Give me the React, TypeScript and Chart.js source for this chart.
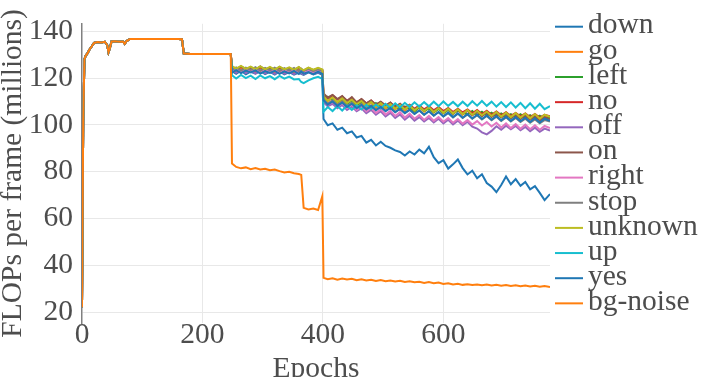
import { useEffect, useRef } from "react";
import { Chart, registerables } from "chart.js";

Chart.register(...registerables);

const FONT = "'Liberation Serif', 'Times New Roman', serif";
const TEXT = "#4d4d4d";
const FS = 29.5;

const seriesNames = ["down", "go", "left", "no", "off", "on", "right", "stop", "unknown", "up", "yes", "bg-noise"];
const seriesColors = ["#1f77b4", "#ff7f0e", "#2ca02c", "#d62728", "#9467bd", "#8c564b", "#e377c2", "#7f7f7f", "#bcbd22", "#17becf", "#1f77b4", "#ff7f0e"];

const yTicks = [20, 40, 60, 80, 100, 120, 140];
const xTicks = [0, 200, 400, 600];

// Shared warm-up phase (all keywords overlap)
const prefixEpochs = [0, 2, 4, 6, 9, 12, 16, 20, 26, 32, 38, 42, 44, 46, 49, 55, 62, 68, 71, 74, 80, 100, 130, 160, 166, 169, 180, 210, 240, 247];
const prefixValues = [22, 101, 128, 129.5, 130.5, 132, 133.5, 135, 135.4, 135.2, 135.5, 134, 131, 132.5, 135.6, 135.7, 135.5, 135.6, 134.6, 135.8, 136.7, 136.7, 136.7, 136.7, 136.6, 130.5, 130.3, 130.3, 130.3, 130.3];

// Phase B: epochs 249-399
const phaseBEpochs = [249, 256, 264, 272, 280, 288, 296, 304, 312, 320, 328, 336, 344, 352, 360, 364, 368, 376, 384, 392, 399];
const downB = [122.9, 121.8, 123.1, 121.6, 122.7, 121.9, 123.0, 121.7, 122.6, 121.5, 122.8, 121.6, 122.5, 121.4, 122.3, 121.8, 121.3, 122.4, 121.5, 122.2, 121.4];
const goB = [123.8, 122.7, 123.9, 122.8, 123.6, 122.5, 124.0, 122.6, 123.5, 122.4, 123.7, 122.5, 123.4, 122.3, 123.6, 122.6, 122.2, 123.3, 122.4, 123.2, 122.5];
const leftB = [122.6, 123.7, 122.4, 123.5, 122.8, 123.8, 122.3, 123.4, 122.5, 123.6, 122.2, 123.3, 122.6, 123.5, 122.1, 123.2, 122.4, 123.0, 122.2, 123.1, 122.4];
const noB = [124.6, 123.5, 124.8, 123.6, 124.4, 123.3, 124.7, 123.4, 124.3, 123.2, 124.5, 123.3, 124.2, 123.1, 124.3, 123.4, 123.0, 124.1, 123.2, 124.0, 123.3];
const offB = [123.5, 122.2, 123.4, 122.1, 123.2, 121.9, 123.3, 122.0, 123.0, 121.8, 123.1, 121.9, 122.8, 121.7, 122.9, 122.0, 121.6, 122.7, 121.8, 122.5, 121.9];
const onB = [124.9, 123.7, 125.0, 123.8, 124.7, 123.5, 124.9, 123.6, 124.5, 123.4, 124.7, 123.5, 124.4, 123.3, 124.6, 123.6, 123.2, 124.3, 123.4, 124.2, 123.5];
const rightB = [123.0, 124.0, 122.8, 123.9, 122.9, 123.7, 122.7, 123.8, 122.6, 123.6, 122.5, 123.7, 122.4, 123.5, 122.6, 123.3, 122.3, 123.2, 122.4, 123.1, 122.5];
const stopB = [123.4, 124.5, 123.2, 124.4, 123.5, 124.6, 123.1, 124.3, 123.3, 124.4, 123.0, 124.2, 123.2, 124.3, 122.9, 124.0, 123.1, 123.9, 122.9, 123.8, 123.0];
const unknownB = [125.1, 124.0, 125.2, 123.9, 124.9, 123.8, 125.0, 123.7, 124.8, 123.6, 124.9, 123.7, 124.6, 123.5, 124.7, 123.8, 123.4, 124.5, 123.6, 124.4, 123.7];
const upB = [121.2, 119.8, 121.3, 120.0, 121.0, 119.6, 121.1, 119.9, 120.8, 119.5, 120.9, 119.7, 120.6, 119.4, 119.6, 118.3, 117.8, 119.0, 119.9, 120.5, 119.6];
const yesB = [122.3, 123.4, 122.1, 123.2, 122.4, 123.3, 121.9, 123.0, 122.2, 123.1, 121.8, 122.9, 122.0, 123.0, 121.7, 122.8, 121.9, 122.6, 121.7, 122.7, 121.8];
const bgNoiseB = [83.5, 82.0, 81.4, 81.8, 81.0, 81.5, 80.9, 81.2, 80.6, 80.9, 80.2, 79.6, 79.9, 79.3, 79.0, 78.6, 64.5, 63.8, 64.2, 63.6, 69.5];

// Phase C: epochs 401-777
const phaseCEpochs = [401, 408, 416, 424, 432, 440, 448, 456, 464, 472, 480, 488, 496, 504, 512, 520, 528, 536, 544, 552, 560, 568, 576, 584, 592, 600, 608, 616, 624, 632, 640, 648, 656, 664, 672, 680, 688, 696, 704, 712, 720, 728, 736, 744, 752, 760, 768, 777];
const downC = [102.5, 99.8, 100.6, 97.9, 98.8, 96.4, 97.2, 94.6, 95.3, 92.4, 93.6, 91.2, 92.8, 91.0, 90.2, 89.1, 88.4, 86.9, 88.6, 87.3, 89.4, 87.8, 90.6, 86.2, 83.6, 84.9, 81.3, 83.1, 85.2, 81.5, 78.8, 80.4, 77.2, 78.9, 75.1, 73.6, 71.2, 74.3, 77.9, 74.6, 76.8, 73.9, 75.6, 72.4, 73.8, 70.9, 67.8, 70.4];
const goC = [
  111.8, 110.2, 111.5, 109.4, 110.8, 108.9, 110.6, 108.5,
  109.9, 107.8, 109.5, 107.4, 108.9, 107.0, 108.6, 106.6,
  108.2, 106.1, 107.9, 105.8, 107.6, 105.6, 107.4, 105.2,
  107.1, 105.0, 106.6, 104.7, 106.5, 104.4, 106.2, 104.1,
  105.9, 103.8, 105.6, 103.7, 105.4, 103.4, 105.1, 103.2,
  104.8, 102.9, 104.6, 102.8, 104.3, 102.5, 104.0, 103.0,
];
const leftC = [
  110.2, 112.0, 110.8, 109.6, 111.2, 109.0, 110.4, 108.2,
  109.8, 108.9, 107.6, 109.3, 107.2, 108.6, 106.8, 108.4,
  106.5, 107.9, 106.9, 105.8, 107.6, 105.9, 107.0, 105.4,
  106.8, 105.1, 106.4, 104.8, 106.1, 105.3, 104.4, 105.9,
  104.2, 105.6, 104.0, 105.2, 103.6, 104.9, 103.4, 104.6,
  103.2, 104.5, 103.0, 104.1, 102.8, 103.9, 102.6, 103.3,
];
const noC = [
  113.0, 111.4, 112.6, 110.8, 112.1, 110.3, 111.6, 109.6,
  110.9, 109.1, 110.4, 108.5, 109.8, 108.2, 109.4, 107.6,
  108.9, 107.3, 108.6, 106.9, 108.2, 106.6, 107.9, 106.2,
  107.6, 105.9, 107.2, 105.5, 106.9, 105.3, 106.6, 104.9,
  106.3, 104.6, 106.0, 104.3, 105.7, 104.1, 105.4, 103.8,
  105.1, 103.6, 104.9, 103.3, 104.6, 103.1, 104.3, 103.6,
];
const offC = [
  109.6, 107.9, 109.0, 107.1, 108.5, 106.4, 107.8, 105.8,
  107.1, 105.0, 106.4, 104.3, 105.8, 103.6, 105.1, 102.9,
  104.4, 102.2, 103.9, 101.8, 103.3, 101.4, 102.9, 101.0,
  102.6, 100.6, 102.2, 100.2, 101.8, 99.8, 101.3, 99.2,
  98.4, 96.8, 95.9, 97.4, 99.4, 97.9, 99.6, 98.1,
  99.5, 97.7, 99.1, 97.3, 98.8, 97.0, 98.4, 97.5,
];
const onC = [
  113.4, 111.6, 112.8, 111.0, 112.3, 110.2, 111.8, 109.5,
  111.0, 109.2, 110.4, 108.6, 109.9, 108.1, 109.5, 107.6,
  109.0, 107.0, 108.5, 106.6, 108.0, 106.2, 107.6, 105.8,
  107.2, 105.3, 106.8, 104.9, 106.4, 104.5, 106.0, 104.1,
  105.6, 103.7, 105.2, 103.4, 104.8, 103.1, 104.5, 102.8,
  104.2, 102.5, 103.9, 102.2, 103.6, 101.9, 103.3, 102.4,
];
const rightC = [
  110.4, 108.6, 109.8, 107.9, 109.2, 107.1, 108.6, 106.4,
  107.9, 105.7, 107.2, 105.1, 106.6, 104.4, 106.0, 103.8,
  105.4, 103.1, 104.8, 102.6, 104.2, 102.1, 103.8, 101.7,
  103.3, 101.3, 102.9, 100.9, 102.5, 100.5, 102.0, 100.1,
  101.6, 99.7, 101.2, 99.3, 100.9, 98.9, 100.6, 98.6,
  100.3, 98.3, 100.1, 98.1, 99.8, 97.9, 99.5, 98.6,
];
const stopC = [
  110.9, 109.1, 110.5, 108.6, 110.0, 108.0, 109.5, 107.4,
  108.9, 106.9, 108.4, 106.5, 107.9, 106.0, 107.5, 105.5,
  107.0, 105.1, 106.6, 104.7, 106.2, 104.3, 105.8, 104.0,
  105.5, 103.6, 105.1, 103.2, 104.8, 102.9, 104.4, 102.6,
  104.1, 102.3, 103.8, 102.0, 103.5, 101.7, 103.2, 101.4,
  102.9, 101.2, 102.6, 100.9, 102.3, 100.7, 102.0, 101.4,
];
const unknownC = [
  112.1, 110.3, 111.7, 109.7, 111.3, 109.3, 110.7, 108.8,
  110.2, 108.3, 109.7, 107.8, 109.3, 107.4, 108.9, 106.9,
  108.5, 106.6, 108.2, 106.2, 107.8, 105.9, 107.5, 105.5,
  107.2, 105.2, 106.9, 104.9, 106.6, 104.6, 106.3, 104.3,
  106.0, 104.1, 105.7, 103.8, 105.5, 103.5, 105.2, 103.3,
  105.0, 103.1, 104.8, 102.8, 104.6, 102.6, 104.3, 103.4,
];
const upC = [
  105.6, 107.6, 105.9, 108.0, 106.1, 108.2, 106.4, 108.3,
  106.6, 108.5, 106.8, 108.7, 107.0, 109.0, 107.2, 109.2,
  107.4, 109.4, 107.6, 109.6, 107.8, 109.7, 107.9, 109.9,
  108.0, 110.0, 108.1, 109.8, 107.9, 109.9, 108.0, 110.1,
  108.2, 110.2, 108.1, 109.9, 107.8, 109.7, 107.6, 109.6,
  107.4, 109.4, 107.1, 109.2, 106.9, 109.0, 106.7, 108.0,
];
const yesC = [
  110.5, 108.6, 110.0, 108.1, 109.5, 107.6, 109.0, 107.1,
  108.5, 106.6, 108.0, 106.2, 107.6, 105.8, 107.2, 105.4,
  106.8, 105.0, 106.4, 104.6, 106.1, 104.3, 105.8, 103.9,
  105.5, 103.6, 105.2, 103.3, 104.9, 103.0, 104.6, 102.7,
  104.3, 102.5, 104.0, 102.2, 103.8, 101.9, 103.5, 101.7,
  103.3, 101.5, 103.0, 101.2, 102.8, 101.0, 102.6, 101.7,
];
const bgNoiseC = [34.6, 34.0, 34.4, 33.8, 34.3, 33.9, 34.2, 33.6, 34.0, 33.5, 33.8, 33.3, 33.7, 33.2, 33.5, 33.0, 33.3, 32.8, 33.1, 32.7, 32.9, 32.4, 32.8, 32.3, 32.6, 32.0, 32.3, 31.8, 32.1, 31.6, 31.9, 31.5, 31.8, 31.4, 31.7, 31.3, 31.6, 31.2, 31.5, 31.1, 31.4, 31.0, 31.3, 30.9, 31.2, 30.8, 31.1, 30.7];

const seriesB = [downB, goB, leftB, noB, offB, onB, rightB, stopB, unknownB, upB, yesB, bgNoiseB];
const seriesC = [downC, goC, leftC, noC, offC, onC, rightC, stopC, unknownC, upC, yesC, bgNoiseC];

export default function App() {
  const ref = useRef<HTMLCanvasElement>(null);

  useEffect(() => {
    if (!ref.current) return;
    const epochs = [...prefixEpochs, ...phaseBEpochs, ...phaseCEpochs];
    const datasets = seriesNames.map((name, i) => {
      const vals = [...prefixValues, ...seriesB[i], ...seriesC[i]];
      return {
        label: name,
        data: epochs.map((x, j) => ({ x, y: vals[j] })),
        borderColor: seriesColors[i],
        backgroundColor: seriesColors[i],
        borderWidth: 2,
        pointRadius: 0,
        tension: 0,
        order: seriesNames.length - 1 - i,
      };
    });

    const sideLegend = {
      id: "sideLegend",
      afterDraw(chart: any) {
        const ctx = chart.ctx;
        const x0 = chart.chartArea.right + 5;
        const top = 26.7;
        const step = 25.15;
        ctx.save();
        ctx.font = `${FS}px ${FONT}`;
        ctx.textBaseline = "middle";
        ctx.textAlign = "left";
        chart.data.datasets.forEach((ds: any, i: number) => {
          const y = top + i * step;
          ctx.strokeStyle = ds.borderColor;
          ctx.lineWidth = 2;
          ctx.beginPath();
          ctx.moveTo(x0, y);
          ctx.lineTo(x0 + 28, y);
          ctx.stroke();
          ctx.fillStyle = TEXT;
          ctx.fillText(ds.label, x0 + 33, y - 1);
        });
        ctx.restore();
      },
    };

    const chart = new Chart(ref.current, {
      type: "line",
      data: { datasets },
      options: {
        animation: false,
        responsive: false,
        events: [],
        layout: { padding: { top: 23, right: 158, left: 0, bottom: 0 } },
        plugins: { legend: { display: false }, tooltip: { enabled: false } },
        scales: {
          x: {
            type: "linear",
            min: 0,
            max: 777,
            afterFit: (s: any) => { s.height = 54; },
            afterBuildTicks: (s: any) => { s.ticks = xTicks.map((v) => ({ value: v })); },
            ticks: {
              includeBounds: false,
              font: { family: FONT, size: FS, lineHeight: 1 },
              color: TEXT,
              padding: -2.75,
              maxRotation: 0,
            },
            grid: {
              drawTicks: false,
              color: (c: any) => (c.tick && c.tick.value === 0 ? "rgba(0,0,0,0)" : "#e8e8e8"),
              lineWidth: 1,
            },
            border: { display: false },
            title: {
              display: true,
              text: "Epochs",
              color: TEXT,
              font: { family: FONT, size: FS, lineHeight: 1 },
              padding: { top: 0, bottom: -7.25 },
            },
          },
          y: {
            type: "linear",
            min: 15.3,
            max: 143.2,
            afterFit: (s: any) => { s.width = 82; },
            afterBuildTicks: (s: any) => { s.ticks = yTicks.map((v) => ({ value: v })); },
            ticks: {
              includeBounds: false,
              font: { family: FONT, size: FS, lineHeight: 1 },
              color: TEXT,
              padding: 9,
            },
            grid: { drawTicks: false, color: "#e8e8e8", lineWidth: 1 },
            border: { display: true, color: "#808080", width: 1.5 },
            title: {
              display: true,
              text: "FLOPs per frame (millions)",
              color: TEXT,
              font: { family: FONT, size: FS, lineHeight: 1 },
              padding: { top: -1.3, bottom: 0 },
            },
          },
        },
      },
      plugins: [sideLegend],
    });
    return () => chart.destroy();
  }, []);

  return (
    <div style={{ position: "absolute", left: 0, top: 0, width: 708, height: 377, background: "#fff" }}>
      <canvas ref={ref} width={708} height={377} style={{ display: "block" }} />
    </div>
  );
}
